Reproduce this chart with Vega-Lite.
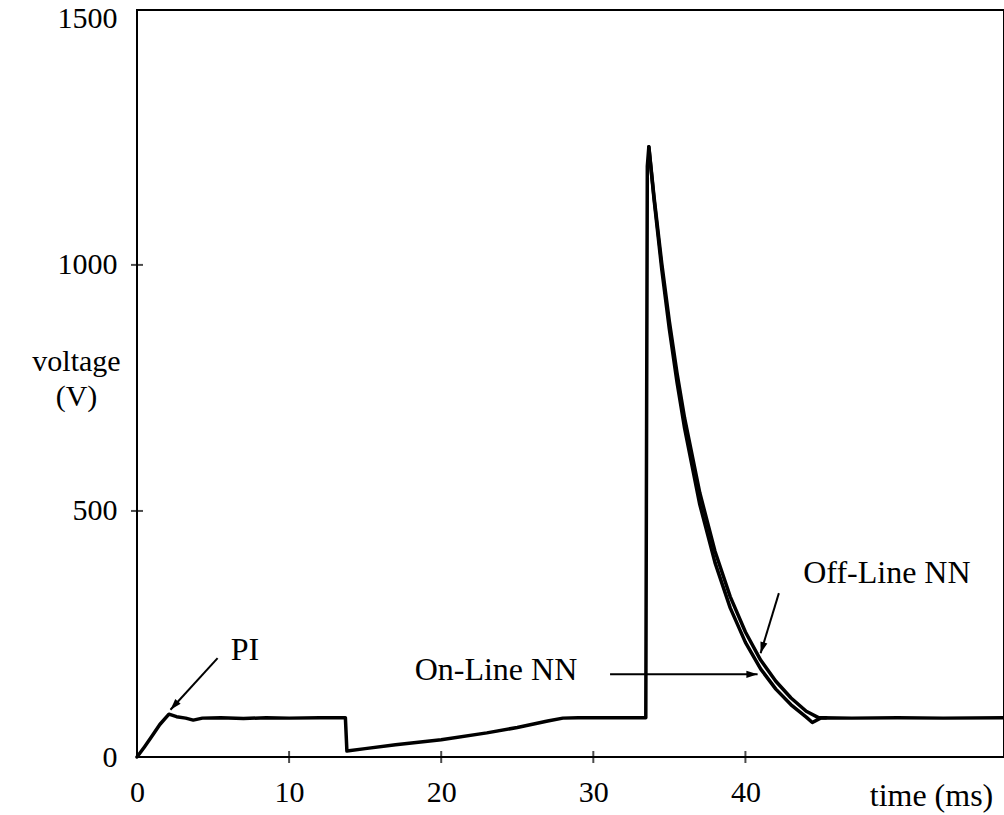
{
  "$schema": "https://vega.github.io/schema/vega-lite/v6.json",
  "autosize": {"type": "none"},
  "padding": {"left": 137, "top": 10, "right": 0, "bottom": 58},
  "width": 867,
  "height": 747,
  "background": "white",
  "config": {
    "view": {"stroke": "black", "strokeWidth": 2},
    "font": "Liberation Serif"
  },
  "datasets": {
    "trace": [
      {"series": "On-Line NN", "t": 0, "v": 0},
      {"series": "On-Line NN", "t": 0.5, "v": 21},
      {"series": "On-Line NN", "t": 1.0, "v": 43},
      {"series": "On-Line NN", "t": 1.5, "v": 66},
      {"series": "On-Line NN", "t": 2.1, "v": 87},
      {"series": "On-Line NN", "t": 2.6, "v": 82},
      {"series": "On-Line NN", "t": 3.2, "v": 79},
      {"series": "On-Line NN", "t": 3.7, "v": 75},
      {"series": "On-Line NN", "t": 4.3, "v": 79},
      {"series": "On-Line NN", "t": 5.5, "v": 80},
      {"series": "On-Line NN", "t": 7.0, "v": 78},
      {"series": "On-Line NN", "t": 8.5, "v": 80},
      {"series": "On-Line NN", "t": 10.0, "v": 79},
      {"series": "On-Line NN", "t": 12.0, "v": 80},
      {"series": "On-Line NN", "t": 13.7, "v": 80},
      {"series": "On-Line NN", "t": 13.8, "v": 12},
      {"series": "On-Line NN", "t": 15.0, "v": 17},
      {"series": "On-Line NN", "t": 17.0, "v": 25},
      {"series": "On-Line NN", "t": 20.0, "v": 35},
      {"series": "On-Line NN", "t": 23.0, "v": 49},
      {"series": "On-Line NN", "t": 25.0, "v": 60},
      {"series": "On-Line NN", "t": 27.0, "v": 73},
      {"series": "On-Line NN", "t": 28.0, "v": 79},
      {"series": "On-Line NN", "t": 29.0, "v": 80},
      {"series": "On-Line NN", "t": 31.0, "v": 80},
      {"series": "On-Line NN", "t": 33.45, "v": 80},
      {"series": "On-Line NN", "t": 33.55, "v": 1200},
      {"series": "On-Line NN", "t": 33.65, "v": 1240},
      {"series": "On-Line NN", "t": 34.0, "v": 1131},
      {"series": "On-Line NN", "t": 34.5, "v": 991},
      {"series": "On-Line NN", "t": 35.0, "v": 869},
      {"series": "On-Line NN", "t": 35.5, "v": 762},
      {"series": "On-Line NN", "t": 36.0, "v": 668},
      {"series": "On-Line NN", "t": 37.0, "v": 513},
      {"series": "On-Line NN", "t": 38.0, "v": 395},
      {"series": "On-Line NN", "t": 39.0, "v": 303},
      {"series": "On-Line NN", "t": 40.0, "v": 233},
      {"series": "On-Line NN", "t": 41.0, "v": 179},
      {"series": "On-Line NN", "t": 42.0, "v": 138},
      {"series": "On-Line NN", "t": 43.0, "v": 106},
      {"series": "On-Line NN", "t": 44.0, "v": 81},
      {"series": "On-Line NN", "t": 44.4, "v": 70},
      {"series": "On-Line NN", "t": 45.0, "v": 80},
      {"series": "On-Line NN", "t": 47.0, "v": 79},
      {"series": "On-Line NN", "t": 50.0, "v": 80},
      {"series": "On-Line NN", "t": 53.0, "v": 79},
      {"series": "On-Line NN", "t": 57.0, "v": 80},
      {"series": "Off-Line NN", "t": 33.65, "v": 1240},
      {"series": "Off-Line NN", "t": 34.0, "v": 1136},
      {"series": "Off-Line NN", "t": 34.5, "v": 1003},
      {"series": "Off-Line NN", "t": 35.0, "v": 885},
      {"series": "Off-Line NN", "t": 35.5, "v": 781},
      {"series": "Off-Line NN", "t": 36.0, "v": 689},
      {"series": "Off-Line NN", "t": 37.0, "v": 537},
      {"series": "Off-Line NN", "t": 38.0, "v": 418},
      {"series": "Off-Line NN", "t": 39.0, "v": 326},
      {"series": "Off-Line NN", "t": 40.0, "v": 254},
      {"series": "Off-Line NN", "t": 41.0, "v": 197},
      {"series": "Off-Line NN", "t": 42.0, "v": 154},
      {"series": "Off-Line NN", "t": 43.0, "v": 120},
      {"series": "Off-Line NN", "t": 44.0, "v": 93},
      {"series": "Off-Line NN", "t": 44.8, "v": 80},
      {"series": "Off-Line NN", "t": 45.3, "v": 80}
    ],
    "xticks": [{"t": 10, "v": 0}, {"t": 20, "v": 0}, {"t": 30, "v": 0}, {"t": 40, "v": 0}],
    "yticks": [{"t": 0, "v": 500}, {"t": 0, "v": 1000}],
    "arrows": [
      {"name": "PI", "t": 5.3, "v": 201, "t2": 2.2, "v2": 96},
      {"name": "On-Line NN", "t": 31.1, "v": 168, "t2": 40.8, "v2": 168},
      {"name": "Off-Line NN", "t": 42.2, "v": 333, "t2": 41.0, "v2": 211}
    ],
    "labels": [
      {"label": "PI", "t": 7.1, "v": 217},
      {"label": "On-Line NN", "t": 23.6, "v": 176},
      {"label": "Off-Line NN", "t": 49.3, "v": 374}
    ]
  },
  "encoding": {
    "x": {
      "field": "t", "type": "quantitative",
      "scale": {"domain": [0, 57], "nice": false, "zero": false},
      "axis": {
        "values": [0, 10, 20, 30, 40],
        "domain": false, "ticks": false, "grid": false,
        "labelFont": "Liberation Serif", "labelFontSize": 30, "labelColor": "black",
        "labelPadding": 20, "labelFlush": false, "labelOverlap": false, "labelBound": false,
        "title": "time (ms)",
        "titleFont": "Liberation Serif", "titleFontSize": 32, "titleFontWeight": "normal", "titleColor": "black",
        "titleAnchor": null, "titleAlign": "center", "titleBaseline": "alphabetic",
        "titleX": 794, "titleY": 48
      }
    },
    "y": {
      "field": "v", "type": "quantitative",
      "scale": {"domain": [0, 1518], "nice": false, "zero": false},
      "axis": {
        "values": [0, 500, 1000, 1500],
        "format": "d",
        "domain": false, "ticks": false, "grid": false,
        "labelFont": "Liberation Serif", "labelFontSize": 30, "labelColor": "black",
        "labelPadding": 20, "labelFlush": false, "labelOverlap": false, "labelBound": false,
        "title": ["voltage", "(V)"],
        "titleFont": "Liberation Serif", "titleFontSize": 30, "titleFontWeight": "normal", "titleColor": "black",
        "titleAngle": 0, "titleAlign": "center", "titleBaseline": "alphabetic", "titleLineHeight": 35,
        "titleX": -61, "titleY": 360
      }
    }
  },
  "layer": [
    {
      "data": {"name": "trace"},
      "mark": {"type": "line", "color": "black", "strokeWidth": 3.5, "strokeJoin": "round", "strokeCap": "round"},
      "encoding": {"detail": {"field": "series"}}
    },
    {
      "data": {"name": "xticks"},
      "mark": {"type": "tick", "orient": "vertical", "color": "black", "size": 12, "thickness": 2}
    },
    {
      "data": {"name": "yticks"},
      "mark": {"type": "tick", "orient": "horizontal", "color": "black", "size": 12, "thickness": 2}
    },
    {
      "data": {"name": "arrows"},
      "mark": {"type": "rule", "color": "black", "strokeWidth": 2},
      "encoding": {
        "x2": {"field": "t2"},
        "y2": {"field": "v2"}
      }
    },
    {
      "data": {"name": "arrows"},
      "transform": [{"filter": "datum.name === 'PI'"}],
      "mark": {"type": "point", "shape": "M0,0L-0.45,1.4L0.45,1.4Z", "filled": true, "color": "black", "opacity": 1, "size": 256, "angle": 222},
      "encoding": {"x": {"field": "t2", "type": "quantitative"}, "y": {"field": "v2", "type": "quantitative"}}
    },
    {
      "data": {"name": "arrows"},
      "transform": [{"filter": "datum.name === 'On-Line NN'"}],
      "mark": {"type": "point", "shape": "M0,0L-0.45,1.4L0.45,1.4Z", "filled": true, "color": "black", "opacity": 1, "size": 256, "angle": 90},
      "encoding": {"x": {"field": "t2", "type": "quantitative"}, "y": {"field": "v2", "type": "quantitative"}}
    },
    {
      "data": {"name": "arrows"},
      "transform": [{"filter": "datum.name === 'Off-Line NN'"}],
      "mark": {"type": "point", "shape": "M0,0L-0.45,1.4L0.45,1.4Z", "filled": true, "color": "black", "opacity": 1, "size": 256, "angle": 197},
      "encoding": {"x": {"field": "t2", "type": "quantitative"}, "y": {"field": "v2", "type": "quantitative"}}
    },
    {
      "data": {"name": "labels"},
      "mark": {"type": "text", "font": "Liberation Serif", "fontSize": 32, "color": "black", "align": "center", "baseline": "middle"},
      "encoding": {"text": {"field": "label"}}
    }
  ]
}
